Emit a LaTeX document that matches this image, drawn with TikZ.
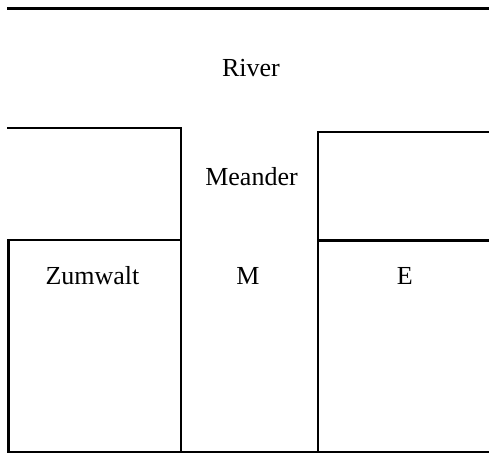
\documentclass[tikz,border=0pt]{standalone}
\usepackage{fontspec}
\setmainfont{Liberation Serif}
\begin{document}
\begin{tikzpicture}[x=1pt,y=-1pt,
  wall/.style={line width=2.2pt,line cap=rect,line join=miter},
  label/.style={anchor=base,inner sep=0pt,font=\fontsize{26}{30}\selectfont}]
\useasboundingbox (0,0) rectangle (489,454);
% river bank
\draw[wall] (8,8.5) -- (489,8.5);
% left block (Zumwalt)
\draw[wall] (8.5,127.7) -- (181,127.7) -- (181,452.3);
\draw[wall] (8.5,452.3) -- (8.5,240) -- (181,240);
% right block (E)
\draw[wall] (489,132) -- (318.3,132) -- (318.3,452.3);
\draw[wall] (318.3,240.5) -- (489,240.5);
% bottom edge
\draw[wall] (8.5,452.3) -- (489,452.3);
% labels
\node[label] (river) at (251,77) {River};
\node[label] (meander) at (251.5,185.5) {Meander};
\node[label] (zumwalt) at (92.5,284) {Zumwalt};
\node[label] (m) at (248,284) {M};
\node[label] (e) at (404.7,284) {E};
\end{tikzpicture}
\end{document}
